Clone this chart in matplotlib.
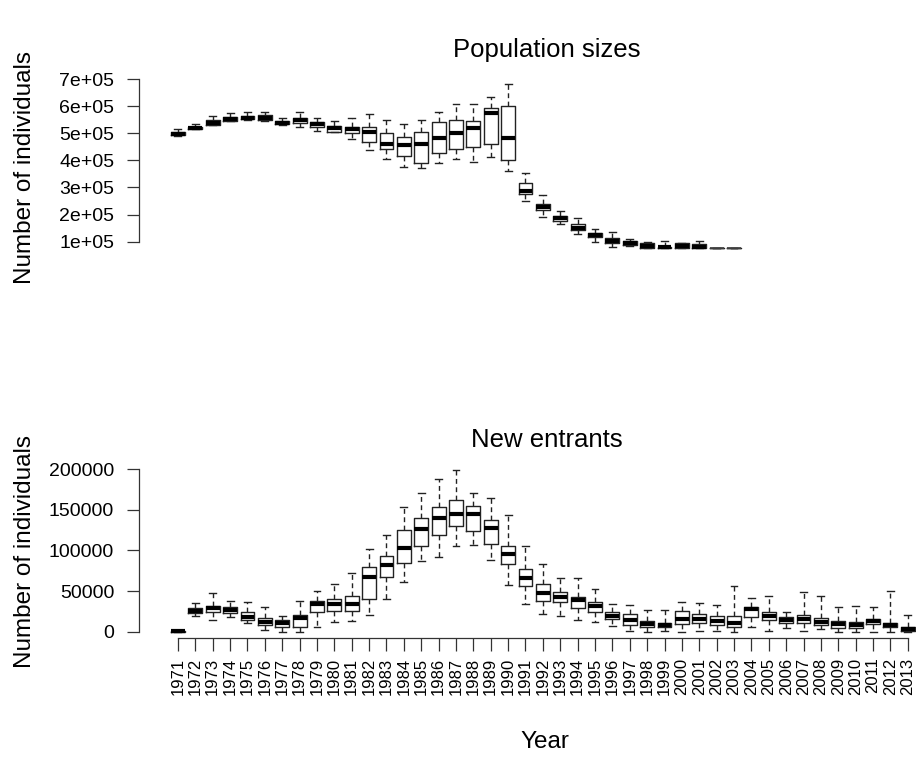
import numpy as np
import matplotlib.pyplot as plt

# ---------------- data (in thousands) ----------------
years = list(range(1971, 2014))

# Population sizes: only 1971-2003 are drawn
pop_lo  = [490, 515, 529, 545, 549, 545, 530, 524, 510, 503, 479, 438, 406, 376, 371, 389, 406,
           395, 411, 360, 251, 192, 165, 127, 99, 82, 85, 75, 76, 78, 75, 78, 78]
pop_q1  = [492, 516, 531, 546, 552, 549, 533, 537, 522, 506, 500, 469, 442, 416, 389, 428, 442,
           451, 460, 401, 276, 217, 177, 142, 116, 94, 88, 78, 76, 78, 76, 78, 78]
pop_med = [497, 520, 538, 554, 557, 557, 539, 549, 533, 518, 515, 506, 460, 457, 460, 482, 500,
           518, 574, 483, 287, 229, 186, 149, 125, 104, 95, 85, 79, 85, 82, 78, 78]
pop_q3  = [504, 524, 549, 561, 565, 567, 546, 558, 543, 528, 524, 522, 502, 487, 506, 541, 549,
           545, 594, 600, 316, 239, 196, 164, 133, 115, 103, 94, 82, 94, 90, 78, 78]
pop_hi  = [515, 533, 565, 574, 578, 580, 558, 580, 558, 545, 558, 572, 549, 535, 549, 580, 608,
           608, 635, 682, 352, 272, 214, 189, 148, 136, 109, 100, 104, 96, 104, 78, 78]

# New entrants
new_lo  = [0, 19.3, 14.4, 17.7, 10.3, 2.1, 0, 0, 6.2, 11.6, 13.2, 20.9, 40.6, 60.8, 86.7, 92.0,
           105.5, 106.8, 88.3, 57.9, 34.1, 22.2, 19.7, 14.4, 11.6, 7.4, 1.2, 0, 1.2, 0, 1.2, 1.2,
           0, 6.2, 1.2, 4.9, 1.2, 3.0, 0, 0, 0, 0, 0]
new_q1  = [0.1, 22.7, 24.6, 23.4, 14.4, 8.3, 6.2, 6.2, 23.9, 25.9, 25.9, 39.9, 67.7, 84.2, 105.5,
           118.7, 130.5, 124.4, 108.4, 83.0, 56.3, 38.2, 37.0, 29.6, 24.6, 15.6, 8.6, 5.4, 5.4,
           9.1, 10.3, 8.3, 6.2, 17.7, 14.4, 10.3, 10.3, 8.3, 4.2, 4.2, 9.5, 6.2, 0.9]
new_med = [0.3, 25.9, 28.8, 26.7, 18.5, 12.3, 10.3, 16.5, 33.7, 33.7, 34.1, 67.0, 81.8, 102.7,
           126.1, 139.6, 144.6, 144.6, 127.3, 95.3, 65.8, 47.3, 42.4, 39.0, 31.6, 19.7, 14.4,
           9.5, 8.3, 15.3, 15.6, 13.5, 10.3, 28.0, 19.7, 14.4, 15.6, 12.3, 9.5, 8.3, 12.8, 8.6, 3.7]
new_q3  = [0.5, 28.8, 32.0, 30.8, 23.9, 16.5, 14.4, 20.6, 37.8, 40.3, 44.3, 80.0, 93.6, 124.9,
           139.6, 153.9, 161.8, 154.4, 137.6, 105.2, 77.2, 59.1, 49.3, 43.1, 36.9, 23.9, 22.2,
           13.2, 10.7, 25.5, 21.4, 19.3, 19.7, 30.0, 23.9, 18.5, 20.6, 16.5, 13.2, 11.9, 15.3,
           10.3, 6.2]
new_hi  = [0.8, 35.7, 47.3, 38.2, 36.9, 30.8, 19.3, 38.2, 50.1, 59.1, 72.3, 101.8, 118.7, 153.9,
           170.4, 188.0, 199.1, 170.4, 164.3, 144.1, 105.5, 83.0, 65.8, 65.8, 52.2, 34.1, 32.9,
           26.7, 26.7, 36.9, 35.7, 32.9, 56.3, 41.9, 44.3, 24.6, 49.3, 44.0, 30.8, 32.0, 30.8,
           50.1, 20.6]

pop_ticks = [100000, 200000, 300000, 400000, 500000, 600000, 700000]
pop_tick_labels = ['1e+05', '2e+05', '3e+05', '4e+05', '5e+05', '6e+05', '7e+05']
new_ticks = [0, 50000, 100000, 150000, 200000]
new_tick_labels = ['0', '50000', '100000', '150000', '200000']


def make_stats(lo, q1, med, q3, hi):
    # bxp wants one dict per box, values back in individuals
    return [dict(whislo=a * 1000, q1=b * 1000, med=c * 1000, q3=d * 1000, whishi=e * 1000, fliers=[])
            for a, b, c, d, e in zip(lo, q1, med, q3, hi)]


plt.rcParams['font.family'] = ['Liberation Sans', 'DejaVu Sans']

box_style = dict(
    widths=0.8,
    showfliers=False,
    boxprops=dict(color='#222222', lw=1.0),
    whiskerprops=dict(color='#222222', lw=1.0, linestyle=(0, (3.5, 2.5))),
    capprops=dict(color='#222222', lw=1.0),
    medianprops=dict(color='black', lw=3.0, solid_capstyle='butt'),
)

fig = plt.figure(figsize=(9.22, 7.6), dpi=100)
ax1 = fig.add_axes([0.151, 0.6645, 0.843, 0.2336])
ax2 = fig.add_axes([0.151, 0.1603, 0.843, 0.2297])

# ---------------- top: population sizes ----------------
pos_pop = np.arange(1, len(pop_med) + 1)
bp = ax1.bxp(make_stats(pop_lo, pop_q1, pop_med, pop_q3, pop_hi), positions=pos_pop, **box_style)
# the last two years collapse to a single value: drawn as thin dashes in the original
for i, (lo, hi) in enumerate(zip(pop_lo, pop_hi)):
    if lo == hi:
        bp['medians'][i].set_linewidth(1.2)
        bp['medians'][i].set_color('#444444')
ax1.set_xlim(-1.23, len(years) + 0.5)
ax1.set_ylim(50700, 706000)
ax1.set_yticks(pop_ticks)
ax1.set_yticklabels(pop_tick_labels)
ax1.set_xticks([])
ax1.spines['left'].set_bounds(pop_ticks[0], pop_ticks[-1])
for s in ['top', 'right', 'bottom']:
    ax1.spines[s].set_visible(False)

# ---------------- bottom: new entrants ----------------
pos_new = np.arange(1, len(years) + 1)
ax2.bxp(make_stats(new_lo, new_q1, new_med, new_q3, new_hi), positions=pos_new, **box_style)
ax2.set_xlim(-1.23, len(years) + 0.5)
ax2.set_ylim(-8000, 207000)
ax2.set_yticks(new_ticks)
ax2.set_yticklabels(new_tick_labels)
ax2.set_xticks(pos_new)
ax2.set_xticklabels([str(y) for y in years], rotation=90, fontsize=12)
ax2.spines['left'].set_bounds(new_ticks[0], new_ticks[-1])
ax2.spines['bottom'].set_bounds(pos_new[0], pos_new[-1])
for s in ['top', 'right']:
    ax2.spines[s].set_visible(False)

for ax in [ax1, ax2]:
    ax.tick_params(axis='y', labelsize=14, length=9, width=0.9, pad=9, color='#333333')
    ax.tick_params(axis='x', length=9, width=0.9, pad=5, color='#333333')
    ax.spines['left'].set_color('#333333')
    ax.spines['bottom'].set_color('#333333')
    ax.spines['left'].set_linewidth(0.9)
    ax.spines['bottom'].set_linewidth(0.9)

# titles and labels
fig.text(0.593, 0.934, 'Population sizes', ha='center', va='center', fontsize=18.5)
fig.text(0.593, 0.421, 'New entrants', ha='center', va='center', fontsize=18.5)
fig.text(0.027, 0.78, 'Number of individuals', rotation=90, ha='center', va='center', fontsize=17.5)
fig.text(0.027, 0.275, 'Number of individuals', rotation=90, ha='center', va='center', fontsize=17.5)
fig.text(0.591, 0.024, 'Year', ha='center', va='center', fontsize=17.5)

plt.savefig('out.png', dpi=100)
plt.close()
